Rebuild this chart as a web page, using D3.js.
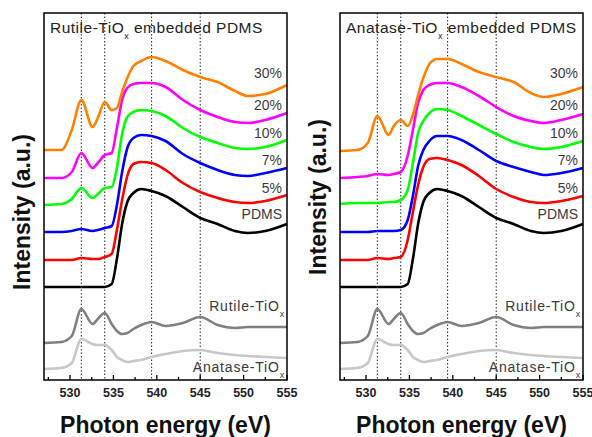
<!DOCTYPE html>
<html>
<head>
<meta charset="utf-8">
<script src="https://cdn.jsdelivr.net/npm/d3@7"></script>
<style>
  body { margin: 0; background: #fff; }
  text { font-family: "Liberation Sans", Arial, sans-serif; }
</style>
</head>
<body>
<svg id="chart" width="592" height="437"></svg>
<script>
// photon energy grid (eV) shared by every spectrum
const energy = [527, 529, 530.2, 531.3, 532.6, 533.2, 534, 534.8, 535.4, 536, 536.6, 537.3,
    538.2, 539.4, 541, 543, 545, 547, 549, 550.5, 552.5, 555];

// stacked intensities (a.u.)
const pdms = [0.93, 0.93, 0.93, 0.93, 0.93, 0.93, 0.93, 0.96, 1.21, 1.56, 1.78, 1.87, 1.91, 1.89, 1.84, 1.73, 1.62, 1.56, 1.49, 1.47, 1.49, 1.56];
const rutileRef = [0.37, 0.38, 0.44, 0.71, 0.56, 0.61, 0.67, 0.56, 0.49, 0.46, 0.47, 0.51, 0.55, 0.58, 0.54, 0.57, 0.63, 0.55, 0.52, 0.53, 0.53, 0.53];
const anataseRef = [0.11, 0.12, 0.17, 0.41, 0.36, 0.35, 0.35, 0.30, 0.23, 0.20, 0.18, 0.19, 0.20, 0.23, 0.26, 0.29, 0.30, 0.27, 0.25, 0.24, 0.23, 0.22];

const rutile5 = [1.20, 1.20, 1.20, 1.22, 1.21, 1.21, 1.23, 1.26, 1.50, 1.80, 2.04, 2.16, 2.18, 2.17, 2.10, 1.97, 1.88, 1.82, 1.78, 1.77, 1.79, 1.85];
const rutile7 = [1.48, 1.48, 1.49, 1.51, 1.49, 1.50, 1.52, 1.54, 1.75, 2.08, 2.32, 2.42, 2.45, 2.44, 2.39, 2.26, 2.17, 2.10, 2.05, 2.04, 2.07, 2.12];
const rutile10 = [1.75, 1.76, 1.81, 1.92, 1.82, 1.86, 1.92, 1.93, 2.12, 2.46, 2.63, 2.68, 2.70, 2.69, 2.64, 2.52, 2.43, 2.37, 2.32, 2.31, 2.33, 2.40];
const rutile20 = [2.02, 2.02, 2.08, 2.27, 2.12, 2.17, 2.25, 2.27, 2.52, 2.80, 2.92, 2.96, 2.97, 2.97, 2.93, 2.80, 2.70, 2.63, 2.58, 2.57, 2.60, 2.67];
const rutile30 = [2.30, 2.30, 2.50, 2.80, 2.53, 2.62, 2.78, 2.70, 2.72, 2.88, 3.02, 3.14, 3.19, 3.23, 3.19, 3.10, 3.03, 2.98, 2.89, 2.84, 2.86, 2.95];

const anatase5 = [1.20, 1.20, 1.20, 1.22, 1.21, 1.22, 1.23, 1.40, 1.68, 1.95, 2.13, 2.21, 2.22, 2.20, 2.15, 2.04, 1.91, 1.83, 1.78, 1.77, 1.79, 1.84];
const anatase7 = [1.48, 1.48, 1.48, 1.49, 1.49, 1.49, 1.50, 1.60, 1.84, 2.14, 2.30, 2.39, 2.44, 2.44, 2.40, 2.30, 2.19, 2.13, 2.08, 2.05, 2.07, 2.12];
const anatase10 = [1.76, 1.77, 1.77, 1.77, 1.78, 1.78, 1.80, 1.90, 2.17, 2.47, 2.59, 2.67, 2.71, 2.70, 2.64, 2.55, 2.46, 2.38, 2.33, 2.31, 2.33, 2.39];
const anatase20 = [2.02, 2.03, 2.04, 2.06, 2.05, 2.06, 2.08, 2.24, 2.50, 2.77, 2.90, 2.95, 2.97, 2.97, 2.93, 2.84, 2.73, 2.64, 2.59, 2.57, 2.60, 2.66];
const anatase30 = [2.29, 2.30, 2.37, 2.64, 2.45, 2.54, 2.60, 2.54, 2.65, 2.85, 3.02, 3.16, 3.21, 3.21, 3.16, 3.08, 3.03, 2.98, 2.87, 2.83, 2.86, 2.93];

const seriesNames = ["PDMS", "5%", "7%", "10%", "20%", "30%"];
const seriesColors = ["#000000", "#ff0000", "#0000ff", "#00ff00", "#ff00ff", "#ff8000"];
const labelY = [1.61, 1.87, 2.15, 2.42, 2.70, 3.02]; // label baselines, a.u.
const guideLines = [531.3, 534.0, 539.4, 545.0];
const majorTicks = [530, 535, 540, 545, 550, 555];
const minorTicks = [527.5, 532.5, 537.5, 542.5, 547.5, 552.5];

const panels = [
    { left: 44, name: "Rutile-TiO", data: [pdms, rutile5, rutile7, rutile10, rutile20, rutile30], yLabel: 212 },
    { left: 340, name: "Anatase-TiO", data: [pdms, anatase5, anatase7, anatase10, anatase20, anatase30], yLabel: 197 }
];

const svg = d3.select("#chart");
const plotTop = 13, plotBottom = 380, plotWidth = 243;

const y = d3.scaleLinear().domain([0, 3.67]).range([plotBottom, plotTop]);

panels.forEach(p => {
    const x = d3.scaleLinear().domain([527, 555]).range([p.left, p.left + plotWidth]);
    const g = svg.append("g");

    // dotted guides
    g.selectAll(".guide")
        .data(guideLines)
        .enter()
        .append("line")
        .attr("x1", d => x(d))
        .attr("x2", d => x(d))
        .attr("y1", plotTop)
        .attr("y2", plotBottom)
        .attr("stroke", "#222")
        .attr("stroke-width", 1)
        .attr("stroke-dasharray", "1.5,2");

    const line = d3.line()
        .x((d, i) => x(energy[i]))
        .y(d => y(d))
        .curve(d3.curveMonotoneX);

    // reference spectra
    g.append("path").attr("d", line(anataseRef))
        .attr("fill", "none").attr("stroke", "#c8c8c8").attr("stroke-width", 2.6);
    g.append("path").attr("d", line(rutileRef))
        .attr("fill", "none").attr("stroke", "#808080").attr("stroke-width", 2.6);

    g.selectAll(".spec")
        .data(p.data)
        .enter()
        .append("path")
        .attr("d", d => line(d))
        .attr("fill", "none")
        .attr("stroke", (d, i) => seriesColors[i])
        .attr("stroke-width", 2.6);

    // frame
    g.append("rect")
        .attr("x", p.left).attr("y", plotTop)
        .attr("width", plotWidth).attr("height", plotBottom - plotTop)
        .attr("fill", "none").attr("stroke", "#000").attr("stroke-width", 1.5);

    // ticks inward
    g.selectAll(".major")
        .data(majorTicks)
        .enter()
        .append("line")
        .attr("x1", d => x(d)).attr("x2", d => x(d))
        .attr("y1", plotBottom).attr("y2", plotBottom - 5)
        .attr("stroke", "#000").attr("stroke-width", 1.3);
    g.selectAll(".minor")
        .data(minorTicks)
        .enter()
        .append("line")
        .attr("x1", d => x(d)).attr("x2", d => x(d))
        .attr("y1", plotBottom).attr("y2", plotBottom - 3)
        .attr("stroke", "#000").attr("stroke-width", 1.3);
    g.selectAll(".tl")
        .data(majorTicks)
        .enter()
        .append("text")
        .attr("x", d => x(d))
        .attr("y", 397)
        .attr("text-anchor", "middle")
        .attr("font-size", 12.5)
        .attr("font-weight", "bold")
        .attr("fill", "#222")
        .text(d => d);

    // series labels
    g.selectAll(".lab")
        .data(seriesNames)
        .enter()
        .append("text")
        .attr("x", p.left + plotWidth - 5)
        .attr("y", (d, i) => y(labelY[i]))
        .attr("text-anchor", "end")
        .attr("font-size", 14)
        .attr("fill", "#3a3a3a")
        .text(d => d);

    const subLabel = (txt, yy) => {
        const t = g.append("text")
            .attr("x", p.left + plotWidth - 2)
            .attr("y", y(yy))
            .attr("text-anchor", "end")
            .attr("font-size", 14)
            .attr("letter-spacing", 0.8)
            .attr("fill", "#3a3a3a");
        t.append("tspan").text(txt);
        t.append("tspan").attr("font-size", 9).attr("dy", 6).text("x");
    };
    subLabel("Rutile-TiO", 0.69);
    subLabel("Anatase-TiO", 0.08);

    // title
    const title = g.append("text")
        .attr("x", p.left + 6)
        .attr("y", 33)
        .attr("font-size", 15.5)
        .attr("letter-spacing", 0.5)
        .attr("fill", "#222");
    title.append("tspan").text(p.name);
    title.append("tspan").attr("font-size", 9).attr("dy", 6).text("x");
    title.append("tspan").attr("dy", -6).text(" embedded PDMS");

    // axis titles
    svg.append("text")
        .attr("x", p.left + plotWidth / 2)
        .attr("y", 433)
        .attr("text-anchor", "middle")
        .attr("font-size", 23)
        .attr("font-weight", "bold")
        .attr("fill", "#111")
        .text("Photon energy (eV)");
    svg.append("text")
        .attr("transform", `translate(${p.left - 14},${p.yLabel}) rotate(-90)`)
        .attr("text-anchor", "middle")
        .attr("font-size", 23)
        .attr("font-weight", "bold")
        .attr("fill", "#111")
        .text("Intensity (a.u.)");
});
</script>
</body>
</html>
